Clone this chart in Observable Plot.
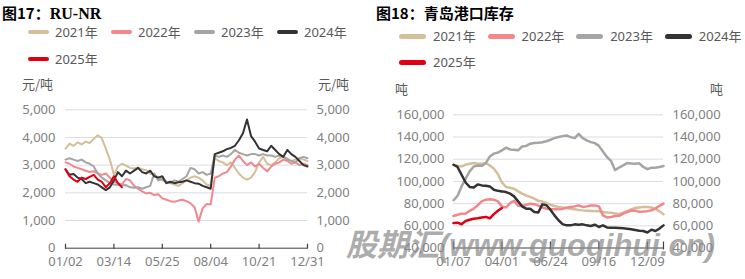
<!DOCTYPE html>
<html><head><meta charset="utf-8">
<script src="https://cdn.jsdelivr.net/npm/d3@7"></script>
<script src="https://cdn.jsdelivr.net/npm/@observablehq/plot@0.6"></script>
<style>
html,body{margin:0;padding:0;background:#fff;}
body{width:745px;height:279px;overflow:hidden;position:relative;font-family:"Noto Sans","Noto Sans CJK SC",sans-serif;}
.abs{position:absolute;white-space:nowrap;}
.title{font-size:15px;font-weight:bold;color:#000;line-height:18px;font-family:"Noto Sans CJK SC","Noto Sans",sans-serif;}
.serif{font-family:"Liberation Serif","DejaVu Serif",serif;font-size:16px;}
.leg{font-size:13px;color:#595959;line-height:16px;}
.unit{font-size:13px;color:#595959;line-height:16px;font-family:"Noto Sans CJK SC",sans-serif;}
.wm{font-size:31px;font-weight:bold;font-style:italic;color:rgba(140,140,140,0.72);line-height:31px;font-family:"Liberation Sans","Noto Sans CJK SC",sans-serif;z-index:10;}
</style></head><body>
<script>
// ---- data ----
const years = ["2021年","2022年","2023年","2024年","2025年"];
const yearColors = ["#D3BF9A","#F4878B","#A5A5A5","#333333","#E00012"];

// RU-NR (元/吨), ~6-day steps
const ruTickLabels = ["01/02","03/14","05/25","08/04","10/21","12/31"];
const ruTickIdx = [0,12,24,36,48,60];
const ruYTicks = [0,1000,2000,3000,4000,5000];
const ru2021 = [3600,3780,3700,3820,3750,3850,3800,3950,4080,3980,3600,3200,2650,2950,3050,2980,2900,2880,2920,2850,2820,2700,2650,2560,2450,2400,2350,2300,2250,2350,2450,2550,2600,2550,2450,2300,2250,3250,3150,3100,3000,3100,2900,2700,2550,2480,2550,2750,3100,3300,3050,3000,3100,3250,3300,3250,3150,3200,3250,3200,3150];
const ru2022 = [3100,3050,2950,2900,2850,2800,2750,2780,2700,2650,2700,2550,2400,2350,2300,2500,2450,2250,2150,2050,1980,2000,1920,1950,1800,1750,1700,1680,1720,1750,1700,1620,1480,960,1440,1600,1580,2550,2600,2700,2750,2950,3200,3350,3150,3000,3100,2950,3050,2900,2780,2950,3050,3100,3200,3150,3050,3100,3000,3050,3000];
const ru2023 = [3200,3250,3200,3150,3200,3100,3050,2950,2700,2550,2450,2350,2300,2280,2270,2280,2200,2180,2200,2150,2200,2250,2700,2450,2500,2400,2350,2450,2400,2500,2600,2900,2850,2700,2750,2650,2700,3350,3300,3350,3300,3400,3550,3450,3400,3350,3400,3400,3350,3400,3350,3350,3300,3350,3300,3200,3150,3100,3250,3300,3250];
const ru2024 = [2850,2650,2680,2550,2500,2350,2400,2350,2300,2200,2100,2200,2450,2750,2600,2800,2700,2800,2900,2750,2700,2800,2600,2550,2600,2350,2400,2350,2380,2400,2450,2400,2350,2330,2250,2200,2150,3400,3450,3500,3580,3620,3700,3900,4150,4650,4050,3850,3600,3550,3500,3700,3550,3400,3300,3550,3400,3300,3150,3000,2950];
const ru2025 = [2850,2600,2480,2400,2550,2500,2580,2650,2480,2400,2200,2350,2600,2350,2200];

// 青岛港口库存 (吨), weekly
const qdTickLabels = ["01/07","04/01","06/24","09/16","12/09"];
const qdTickIdx = [0,12,24,36,48,52];
const qdYTicks = [40000,60000,80000,100000,120000,140000,160000];
const qd2021 = [115000,114000,113500,115000,116000,116500,116000,115900,116300,114400,111500,106500,99000,95000,94300,93400,91000,89000,87300,86000,84500,82500,81800,80500,79000,77800,76900,76500,76000,75400,75000,74300,73900,73600,73300,73300,73000,72400,72000,71800,71000,70600,71800,73500,74800,76000,76500,76900,76900,76500,75400,73000,70300];
const qd2022 = [68800,70000,70900,71000,73500,75500,78500,82000,83500,84000,83500,82000,77500,76500,80500,82500,78000,77800,79000,79800,79500,78200,76500,75400,74800,74800,74800,75200,76300,77000,77500,78400,77000,77500,78200,78400,77500,69400,67500,68000,68800,69000,71000,72400,73500,73800,72600,72800,73200,74000,75500,78000,80000];
const qd2023 = [83000,87000,95500,102500,109000,113500,114400,114000,116500,122500,125000,126000,128000,130300,128800,128600,128000,131500,132000,134000,134600,134800,135200,136200,137500,139000,140000,140800,141400,139900,139000,142800,139000,136900,135400,134500,132000,127000,122000,118500,110200,112500,114400,116500,116200,116000,116300,113000,111000,112300,112300,112900,113800];
const qd2024 = [115000,113000,106000,99000,95000,94500,97300,96400,96000,95500,92500,91500,91000,90400,89000,86500,82000,77500,75400,75400,72500,72000,79300,78500,74500,69400,65000,61500,60400,60400,61300,61000,61300,60400,59800,61000,58900,60400,58500,58300,58300,58000,57700,57400,56800,56200,55600,55300,54000,56500,55300,57500,60400];
const qd2025 = [62500,62800,61400,64300,65500,66400,66800,67400,68000,66800,70500,73500,76000];

// ---- drawing ----
const fmt = d3.format(",");
function makeChart(o){
  const H = 279, plotH = H - o.mt - o.mb;
  const marks = [
    Plot.gridY(o.yTicks.slice(1), {stroke:"#D9DCE7", strokeOpacity:1, strokeWidth:1}),
    ...o.series.map((s,k)=>Plot.lineY(s, {stroke: yearColors[k], strokeWidth: o.sw, strokeLinejoin:"round"})),
    Plot.ruleY([o.yTicks[0]], {stroke:"#3F3F3F", strokeWidth:1}),
    Plot.tickX(o.tickIdx, {x:d=>d, stroke:"#3F3F3F", strokeWidth:1.2, insetTop: plotH - o.tickUp, insetBottom: -o.tickDown}),
    Plot.axisY(o.yTicks, {anchor:"left", tickSize:0, tickPadding:o.padL, tickFormat:fmt, fill:"#7F7F7F"}),
    Plot.axisY(o.yTicks, {anchor:"right", tickSize:0, tickPadding:o.padR, tickFormat:fmt, fill:"#7F7F7F"}),
    Plot.axisX(o.labelIdx, {tickSize:0, tickPadding:9, fill:"#7F7F7F", tickFormat: d => o.tickLabels[o.labelIdx.indexOf(d)]})
  ];
  const svg = Plot.plot({
    width:o.width, height:H,
    marginLeft:o.ml, marginRight:o.mr, marginTop:o.mt, marginBottom:o.mb,
    x:{domain:o.xDomain},
    y:{domain:[o.yTicks[0], o.yTicks[o.yTicks.length-1]]},
    style:{fontFamily:'"Noto Sans","Noto Sans CJK SC",sans-serif', fontSize:"13px", color:"#7F7F7F", background:"none", overflow:"visible"},
    marks
  });
  svg.style.position = "absolute";
  svg.style.left = o.left + "px";
  svg.style.top = "0px";
  document.body.appendChild(svg);
}

makeChart({
  left:0, width:370, ml:65, mr:63, mt:109.3, mb:31.3,
  xDomain:[0,60], yTicks:ruYTicks, tickIdx:ruTickIdx, labelIdx:ruTickIdx, tickLabels:ruTickLabels,
  series:[ru2021,ru2022,ru2023,ru2024,ru2025], sw:2, padL:10, padR:9, tickUp:4, tickDown:1
});
makeChart({
  left:370, width:375, ml:83, mr:82, mt:114.3, mb:31.5,
  xDomain:[0,52], yTicks:qdYTicks, tickIdx:qdTickIdx, labelIdx:qdTickIdx.slice(0,5), tickLabels:qdTickLabels,
  series:[qd2021,qd2022,qd2023,qd2024,qd2025], sw:2.5, padL:9, padR:9, tickUp:6, tickDown:2
});

function addDiv(cls, html, x, y){
  const d = document.createElement("div");
  d.className = "abs " + cls;
  d.innerHTML = html;
  d.style.left = x + "px";
  d.style.top = y + "px";
  document.body.appendChild(d);
  return d;
}
// titles
addDiv("title", '图17：<span class="serif">RU-NR</span>', 2, 4);
addDiv("title", '图18：青岛港口库存', 376, 4);
// legends
function legend(x0, step, rowY, swW, swH, gap){
  years.forEach((y,k)=>{
    const row = k < 4 ? 0 : 1, col = k < 4 ? k : 0;
    const x = x0 + col*step, cy = rowY[row];
    const sw = addDiv("", "", x, cy - swH/2);
    sw.style.width = swW + "px"; sw.style.height = swH + "px";
    sw.style.background = yearColors[k]; sw.style.borderRadius = (swH/2) + "px";
    addDiv("leg", y, x + swW + gap, cy - 8);
  });
}
legend(28, 83, [32, 59], 21, 4, 6);
legend(399, 88.6, [36, 62], 27, 5, 7);
// units
addDiv("unit", "元/吨", 22, 76);
addDiv("unit", "元/吨", 318, 76);
addDiv("unit", "吨", 395, 81);
addDiv("unit", "吨", 710, 81);
// watermark
addDiv("wm", "股期汇(www.guoqihui.cn)", 346, 230);
</script>
</body></html>
